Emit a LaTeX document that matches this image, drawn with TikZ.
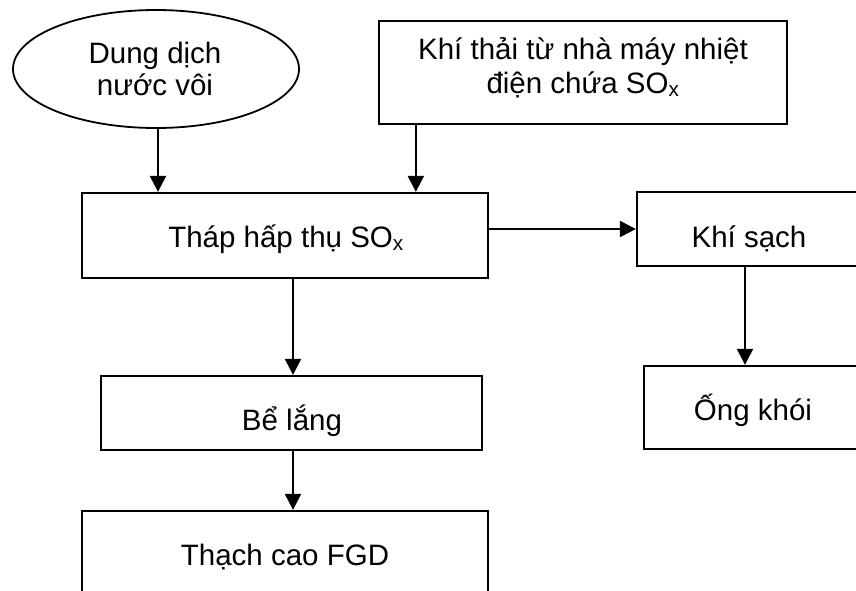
\documentclass[tikz,border=0pt]{standalone}
\usepackage{fontspec}
\setmainfont{Liberation Sans}
\usetikzlibrary{arrows.meta,shapes.geometric}
\begin{document}
\begin{tikzpicture}[x=1pt,y=-1pt,line width=2.3pt,
  box/.style={draw, rectangle, inner sep=0pt, line width=2.3pt},
  oval/.style={draw, ellipse, inner sep=0pt, line width=1.8pt},
  lbl/.style={anchor=base, inner sep=0pt, font=\fontsize{29.5}{34}\selectfont},
  arr/.style={-{Triangle[length=16pt,width=16pt]}, line width=2.3pt}]
\useasboundingbox (0,0) rectangle (856,590);
\clip (0,0) rectangle (856,590);
% shapes
\node[oval, minimum width=286pt, minimum height=118pt] (el) at (156,69) {};
\node[box, minimum width=408pt, minimum height=103pt] (tb) at (583,72.5) {};
\node[box, minimum width=406pt, minimum height=85pt] (th) at (285,235.5) {};
\node[box, minimum width=233pt, minimum height=74pt] (ks) at (753.5,229) {};
\node[box, minimum width=226pt, minimum height=83pt] (ko) at (757,407.5) {};
\node[box, minimum width=381pt, minimum height=74pt] (bl) at (291.5,413) {};
\node[box, minimum width=406pt, minimum height=99pt] (tc) at (285,560.5) {};
% texts
\node[lbl] (el1) at (155,63) {Dung dịch};
\node[lbl] (el2) at (155,95) {nước vôi};
\node[lbl] (tb1) at (583,59) {Khí thải từ nhà máy nhiệt};
\node[lbl] (tb2) at (583,93) {điện chứa SO\textsubscript{x}};
\node[lbl] (th1) at (286,247) {Tháp hấp thụ SO\textsubscript{x}};
\node[lbl] (ks1) at (749,247) {Khí sạch};
\node[lbl] (ko1) at (753,420) {Ống khói};
\node[lbl] (bl1) at (292,430) {Bể lắng};
\node[lbl] (tc1) at (285,565) {Thạch cao FGD};
% connectors
\coordinate (a1) at ([xshift=2pt]el.south);
\draw[arr] (a1) -- (a1 |- th.north);
\coordinate (a2) at ([xshift=38pt]tb.south west);
\draw[arr] (a2) -- (a2 |- th.north);
\draw[arr] (th.east |- ks.west) -- (ks.west);
\coordinate (a3) at ([xshift=-8.5pt]ks.south);
\draw[arr] (a3) -- (a3 |- ko.north);
\coordinate (a4) at ([xshift=1.5pt]bl.north);
\draw[arr] (a4 |- th.south) -- (a4);
\coordinate (a5) at ([xshift=1.5pt]bl.south);
\draw[arr] (a5) -- (a5 |- tc.north);
\end{tikzpicture}
\end{document}
